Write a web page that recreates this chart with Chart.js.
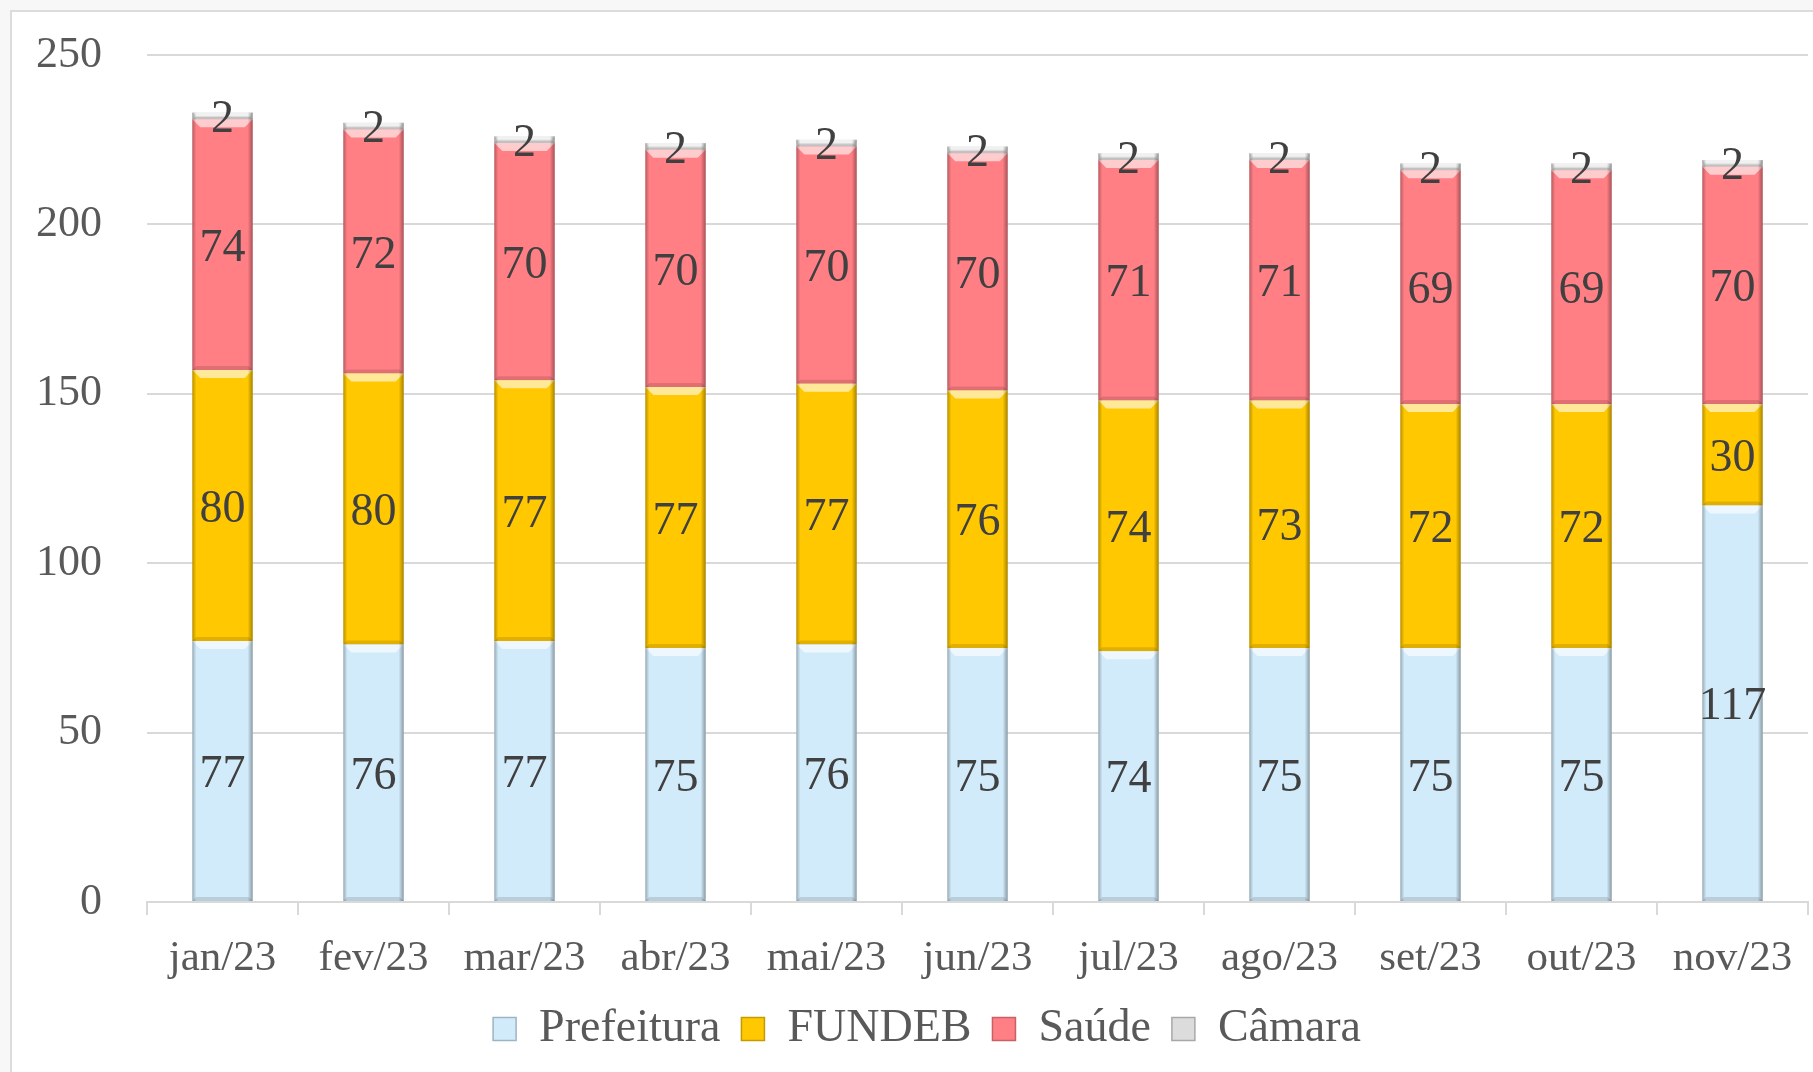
<!DOCTYPE html>
<html>
<head>
<meta charset="utf-8">
<script src="https://cdn.jsdelivr.net/npm/chart.js@4/dist/chart.umd.min.js"></script>
<style>
  html, body { margin: 0; padding: 0; background: #f7f7f7; }
  #frame {
    position: absolute; left: 10px; top: 10px; width: 1820px; height: 1080px;
    background: #fff; border: 2px solid #dcdcdc; box-sizing: border-box;
  }
  #wrap { position: absolute; left: 0; top: 0; width: 1813px; height: 1072px; }
</style>
</head>
<body>
<div id="frame"></div>
<div id="wrap"><canvas id="chart"></canvas></div>
<script>
'use strict';

// dados (quantidade por mês)
const MONTHS = ['jan/23', 'fev/23', 'mar/23', 'abr/23', 'mai/23', 'jun/23',
                'jul/23', 'ago/23', 'set/23', 'out/23', 'nov/23'];
const PREFEITURA = [77, 76, 77, 75, 76, 75, 74, 75, 75, 75, 117];
const FUNDEB     = [80, 80, 77, 77, 77, 76, 74, 73, 72, 72, 30];
const SAUDE      = [74, 72, 70, 70, 70, 70, 71, 71, 69, 69, 70];
const CAMARA     = [2, 2, 2, 2, 2, 2, 2, 2, 2, 2, 2];
const Y_TICKS    = [0, 50, 100, 150, 200, 250];

const FONT = "'Liberation Serif', 'DejaVu Serif', serif";

const SERIES = [
  { label: 'Prefeitura', data: PREFEITURA, color: '#d2ebfa', edge: '#9fb4c2' },
  { label: 'FUNDEB',     data: FUNDEB,     color: '#ffc800', edge: '#c39a00' },
  { label: 'Saúde',      data: SAUDE,      color: '#ff7f85', edge: '#c56266' },
  { label: 'Câmara',     data: CAMARA,     color: '#dcdcdc', edge: '#a8a8a8' },
];

/* ── bisel estilo Excel em cada segmento ───────────────────────── */
const bevelPlugin = {
  id: 'bevel',
  afterDatasetsDraw(chart) {
    const ctx = chart.ctx;
    ctx.save();
    chart.data.datasets.forEach((ds, i) => {
      chart.getDatasetMeta(i).data.forEach(bar => {
        const l = bar.x - bar.width / 2, r = bar.x + bar.width / 2;
        const t = Math.min(bar.y, bar.base), b = Math.max(bar.y, bar.base);
        const h = b - t;
        const bev = Math.min(8, h / 2);
        // brilho no topo
        ctx.fillStyle = 'rgba(255,255,255,0.6)';
        ctx.beginPath();
        ctx.moveTo(l, t); ctx.lineTo(r, t);
        ctx.lineTo(r - bev, t + bev); ctx.lineTo(l + bev, t + bev);
        ctx.closePath(); ctx.fill();
        // base mais escura
        const bb = Math.min(4, h / 3);
        ctx.fillStyle = 'rgba(0,0,0,0.12)';
        ctx.beginPath();
        ctx.moveTo(l, b); ctx.lineTo(r, b);
        ctx.lineTo(r - bb, b - bb); ctx.lineTo(l + bb, b - bb);
        ctx.closePath(); ctx.fill();
        // laterais
        let g = ctx.createLinearGradient(l, 0, l + 4, 0);
        g.addColorStop(0, 'rgba(0,0,0,0.28)'); g.addColorStop(1, 'rgba(0,0,0,0)');
        ctx.fillStyle = g; ctx.fillRect(l, t, 4, h);
        g = ctx.createLinearGradient(r - 5, 0, r, 0);
        g.addColorStop(0, 'rgba(0,0,0,0)'); g.addColorStop(1, 'rgba(0,0,0,0.35)');
        ctx.fillStyle = g; ctx.fillRect(r - 5, t, 5, h);
      });
    });
    ctx.restore();
  },
};

/* ── rótulos de dados no centro de cada segmento ───────────────── */
const labelsPlugin = {
  id: 'valueLabels',
  afterDatasetsDraw(chart) {
    const ctx = chart.ctx;
    ctx.save();
    ctx.font = `46px ${FONT}`;
    ctx.fillStyle = '#404040';
    ctx.textAlign = 'center';
    ctx.textBaseline = 'middle';
    chart.data.datasets.forEach((ds, i) => {
      chart.getDatasetMeta(i).data.forEach((bar, j) => {
        ctx.fillText(String(ds.data[j]), bar.x, (bar.y + bar.base) / 2 + 4);
      });
    });
    ctx.restore();
  },
};

// legenda um pouco à direita do centro do canvas, como no original
const legendShift = {
  id: 'legendShift',
  afterLayout(chart) {
    if (chart.legend) { chart.legend.left += 23; chart.legend.right += 23; }
  },
};

new Chart(document.getElementById('chart'), {
  type: 'bar',
  data: {
    labels: MONTHS,
    datasets: SERIES.map(s => ({
      label: s.label,
      data: s.data,
      backgroundColor: s.color,
      borderWidth: 0,
      categoryPercentage: 1,
      barPercentage: 0.4,
    })),
  },
  options: {
    responsive: true,
    maintainAspectRatio: false,
    animation: false,
    layout: { padding: { left: 0, right: 5, top: 55, bottom: 10 } },
    plugins: {
      legend: {
        position: 'bottom',
        labels: {
          font: { family: FONT, size: 46 },
          color: '#595959',
          boxWidth: 23,
          boxHeight: 23,
          padding: 21,
          generateLabels: chart => Chart.defaults.plugins.legend.labels.generateLabels(chart)
            .map((item, i) => Object.assign(item, { lineWidth: 1.5, strokeStyle: SERIES[i].edge })),
        },
      },
      tooltip: { enabled: false },
    },
    scales: {
      x: {
        stacked: true,
        grid: { display: true, drawOnChartArea: false, offset: true, tickLength: 13, color: '#d9d9d9', lineWidth: 2 },
        border: { display: true, color: '#d9d9d9', width: 2 },
        ticks: { font: { family: FONT, size: 43 }, color: '#595959', padding: 18, maxRotation: 0 },
        afterFit: s => { s.height = 83; s.paddingLeft = 0; s.paddingRight = 0; },
      },
      y: {
        stacked: true,
        min: 0,
        max: 250,
        afterBuildTicks: s => { s.ticks = Y_TICKS.map(v => ({ value: v })); },
        grid: { color: '#d9d9d9', lineWidth: 2, drawTicks: false },
        border: { display: false },
        ticks: { font: { family: FONT, size: 44 }, color: '#595959', padding: 45 },
        afterFit: s => { s.width = 147; s.paddingTop = 0; s.paddingBottom = 0; },
      },
    },
  },
  plugins: [bevelPlugin, labelsPlugin, legendShift],
});
</script>
</body>
</html>
